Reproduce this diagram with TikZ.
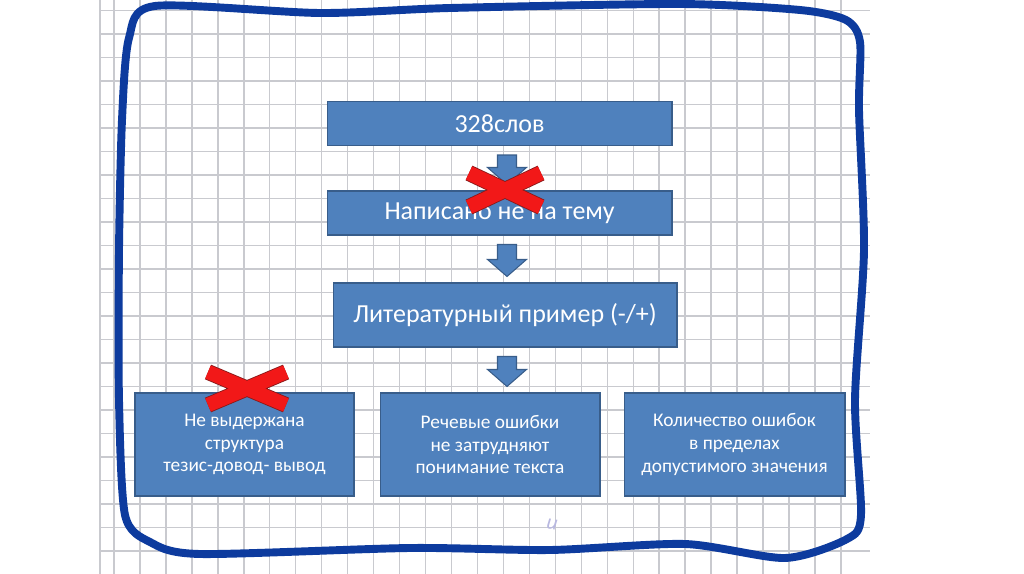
\documentclass[tikz,border=0pt]{standalone}
\usepackage{fontspec}
\setmainfont{Carlito}
\usepackage{xcolor}
\usetikzlibrary{calc}
\definecolor{boxblue}{HTML}{4F81BD}
\definecolor{boxedge}{HTML}{385D8A}
\definecolor{penblue}{HTML}{0D3B9E}
\definecolor{gridgray}{HTML}{C9CACF}
\definecolor{crossred}{HTML}{F21818}
\definecolor{crossedge}{HTML}{8A1A1A}

\newcommand{\blockdown}[2]{%
  \draw[blockarrow] ($(ax |- #1.south)+(-9.5,9)$) -- ($(ax |- #1.south)+(9.5,9)$)
    -- ($(ax |- #2.north)+(9.5,-23)$) -- ($(ax |- #2.north)+(19.5,-23)$)
    -- ($(ax |- #2.north)+(0,-6)$) -- ($(ax |- #2.north)+(-19.5,-23)$)
    -- ($(ax |- #2.north)+(-9.5,-23)$) -- cycle;}

\begin{document}
\begin{tikzpicture}[
   x=0.02cm, y=-0.02cm,
   box/.style={draw=boxedge, fill=boxblue, line width=0.6pt, text=white,
               align=center, inner sep=2pt},
   bigbox/.style={box, minimum width=6.9cm, minimum height=0.88cm,
               font=\fontsize{14.8}{17}\selectfont},
   smallbox/.style={box, minimum width=4.4cm, minimum height=2.06cm,
               font=\fontsize{11}{13}\selectfont},
   blockarrow/.style={draw=boxedge, fill=boxblue, line width=0.6pt},
   gridline/.style={draw=gridgray, line width=0.8pt},
   pen/.style={draw=penblue, line width=4.5pt, line cap=round, line join=round},
   crossout/.style={draw=crossedge, line width=#1+1pt},
   crossin/.style={draw=crossred, line width=#1}]
  \useasboundingbox[fill=white] (0,0) rectangle (1024,574);

  % squared paper
  \foreach \i in {0,...,28}
    \draw[gridline] (114+25.96*\i,0) -- (114+25.96*\i,574);
  \draw[gridline] (100,0) -- (100,574);
  \foreach \j in {0,...,24}
    \draw[gridline] (100,10.5+23.5*\j) -- (870,10.5+23.5*\j);

  % hand-drawn frame
  \draw[pen] plot[smooth cycle, tension=0.45] coordinates {
    (155,6) (320,13) (450,8) (680,4) (800,10) (846,20) (860,42)
    (859,110) (864,250) (855,400) (861,515) (847,539) (785,558)
    (685,544) (550,550) (410,548) (200,554) (150,542) (125,515)
    (119,400) (119,250) (122,120) (129,38)};
  \node[text=gray!60!blue!40, font=\fontsize{12}{12}\selectfont\itshape, rotate=-10]
    (mark) at (552,525) {и};

  \coordinate (ax) at (507,0);
  \node[bigbox] (words) at (499.5,123.5) {328слов};
  \node[bigbox] (topic) at (499.5,213)   {Написано не на тему};
  \node[bigbox, minimum width=6.88cm, minimum height=1.28cm]
                (liter) at (505,315)     {Литературный пример (-/+)};
  \node[smallbox, minimum width=4.38cm] (struct) at (244.5,444.5)
    {Не выдержана\\структура\\тезис-довод- вывод};
  \node[smallbox] (speech) at (490,444.5)
    {Речевые ошибки\\не затрудняют\\понимание текста};
  \node[smallbox, minimum width=4.42cm] (errors) at (734.5,444.5)
    {Количество ошибок\\в пределах\\допустимого значения};

  \blockdown{words}{topic}
  \blockdown{topic}{liter}
  \blockdown{liter}{speech}

  % red crosses
  \coordinate (xa1) at (469,173); \coordinate (xa2) at (541,207);
  \coordinate (xb1) at (469,207); \coordinate (xb2) at (541,173);
  \coordinate (ya1) at (208,372); \coordinate (ya2) at (286,405);
  \coordinate (yb1) at (208,405); \coordinate (yb2) at (286,372);
  \draw[crossout=8.2pt] (xa1) -- (xa2) (xb1) -- (xb2);
  \draw[crossin=8.2pt]  (xa1) -- (xa2) (xb1) -- (xb2);
  \draw[crossout=8pt] (ya1) -- (ya2) (yb1) -- (yb2);
  \draw[crossin=8pt]  (ya1) -- (ya2) (yb1) -- (yb2);
\end{tikzpicture}
\end{document}
